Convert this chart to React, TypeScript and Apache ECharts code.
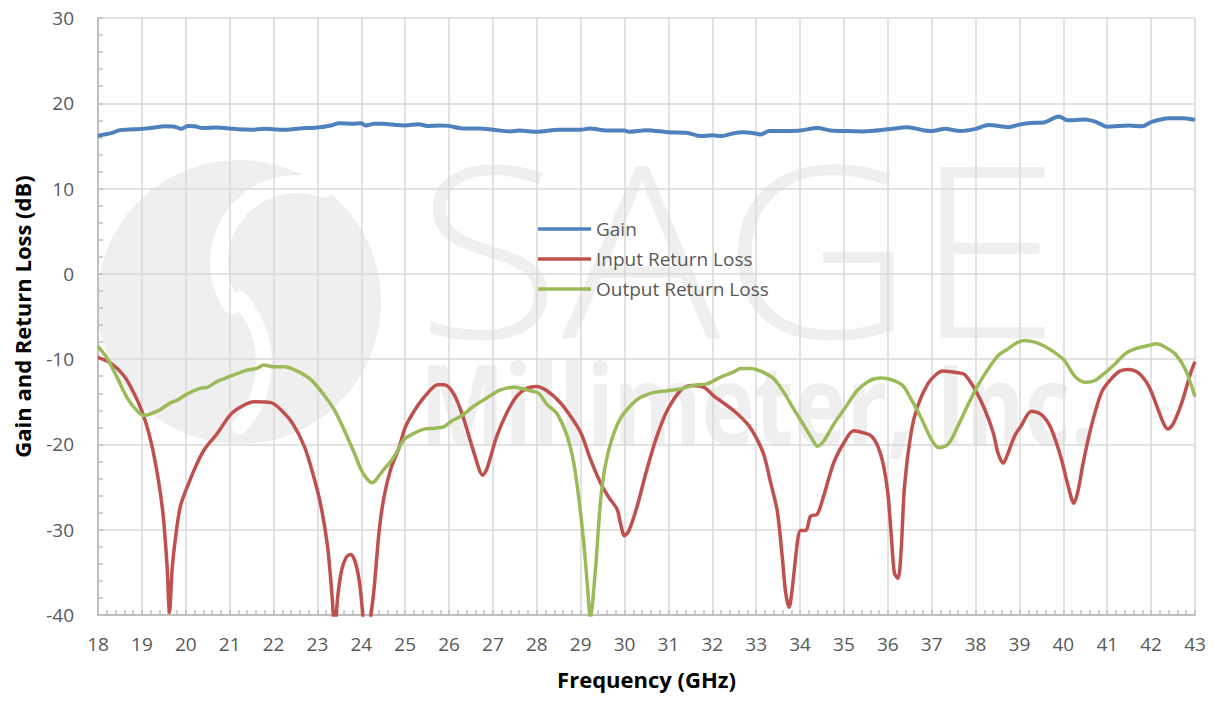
import React, { useEffect, useRef } from "react";
import * as echarts from "echarts";

const xTickMin = 18;
const xTickMax = 43;
const yTickMin = -40;
const yTickMax = 30;

const seriesNames = ["Gain", "Input Return Loss", "Output Return Loss"];

const gainFreq = [18.0, 18.3, 18.5, 18.8, 19.0, 19.3, 19.5, 19.75, 19.9, 20.05, 20.2, 20.4, 20.7, 21.0, 21.2, 21.5, 21.8, 22.0, 22.3, 22.6, 23.0, 23.3, 23.5, 23.8, 24.0, 24.1, 24.3, 24.5, 24.8, 25.0, 25.3, 25.5, 25.8, 26.0, 26.3, 26.7, 27.0, 27.4, 27.6, 28.0, 28.5, 29.0, 29.2, 29.6, 30.0, 30.1, 30.5, 31.0, 31.4, 31.75, 32.0, 32.2, 32.5, 32.7, 33.0, 33.1, 33.3, 33.7, 34.0, 34.4, 34.7, 35.0, 35.45, 36.0, 36.45, 36.8, 37.0, 37.3, 37.65, 38.0, 38.3, 38.75, 39.0, 39.25, 39.55, 39.9, 40.1, 40.5, 40.75, 41.0, 41.5, 41.8, 42.0, 42.4, 42.75, 43.0];
const gainDb = [16.2, 16.5, 16.85, 16.95, 17.0, 17.15, 17.3, 17.25, 17.0, 17.35, 17.3, 17.1, 17.15, 17.05, 16.95, 16.9, 17.0, 16.95, 16.9, 17.05, 17.15, 17.4, 17.65, 17.6, 17.65, 17.4, 17.6, 17.6, 17.45, 17.4, 17.55, 17.35, 17.4, 17.35, 17.05, 17.05, 16.9, 16.7, 16.8, 16.65, 16.9, 16.9, 17.05, 16.8, 16.8, 16.65, 16.85, 16.6, 16.55, 16.15, 16.25, 16.15, 16.5, 16.6, 16.45, 16.35, 16.75, 16.75, 16.8, 17.1, 16.8, 16.75, 16.7, 16.95, 17.2, 16.85, 16.75, 17.0, 16.75, 17.0, 17.45, 17.2, 17.5, 17.7, 17.75, 18.45, 18.0, 18.1, 17.8, 17.25, 17.4, 17.3, 17.8, 18.25, 18.25, 18.05];

const irlFreq = [18.0, 18.3, 18.6, 18.82, 19.0, 19.16, 19.31, 19.47, 19.57, 19.63, 19.69, 19.79, 19.88, 20.04, 20.26, 20.45, 20.72, 21.02, 21.29, 21.56, 21.94, 22.16, 22.43, 22.7, 22.89, 23.08, 23.23, 23.33, 23.4, 23.46, 23.55, 23.66, 23.76, 23.87, 23.97, 24.05, 24.12, 24.2, 24.29, 24.41, 24.52, 24.67, 24.86, 25.01, 25.28, 25.51, 25.74, 25.89, 26.12, 26.34, 26.57, 26.77, 26.86, 27.09, 27.32, 27.55, 27.78, 28.0, 28.23, 28.5, 28.73, 29.0, 29.22, 29.45, 29.64, 29.83, 29.9, 30.0, 30.1, 30.29, 30.51, 30.74, 30.97, 31.27, 31.5, 31.81, 32.03, 32.19, 32.49, 32.8, 33.02, 33.18, 33.33, 33.48, 33.59, 33.67, 33.75, 33.82, 33.94, 34.01, 34.13, 34.24, 34.39, 34.54, 34.77, 35.0, 35.22, 35.42, 35.62, 35.77, 35.89, 36.0, 36.08, 36.15, 36.23, 36.3, 36.38, 36.53, 36.68, 36.91, 37.1, 37.26, 37.6, 37.75, 37.98, 38.21, 38.4, 38.51, 38.63, 38.74, 38.89, 39.04, 39.27, 39.5, 39.69, 39.84, 39.96, 40.11, 40.24, 40.34, 40.45, 40.64, 40.87, 41.06, 41.29, 41.48, 41.71, 41.94, 42.13, 42.28, 42.38, 42.51, 42.7, 42.89, 43.0];
const irlDb = [-9.8, -10.5, -12.0, -14.0, -16.1, -18.7, -22.2, -27.6, -33.9, -39.7, -34.6, -30.0, -27.2, -24.9, -22.2, -20.4, -18.7, -16.5, -15.5, -15.0, -15.1, -15.9, -17.5, -20.2, -23.3, -27.2, -31.9, -37.5, -42.0, -38.0, -34.8, -33.2, -32.9, -33.9, -36.6, -41.0, -46.0, -41.0, -37.0, -30.0, -26.1, -22.9, -20.4, -17.9, -15.5, -14.0, -13.0, -13.0, -14.2, -17.1, -21.0, -23.6, -22.9, -19.0, -16.25, -14.3, -13.4, -13.2, -13.7, -14.9, -16.4, -18.6, -21.7, -24.5, -26.2, -27.6, -29.1, -30.7, -30.1, -27.2, -22.9, -19.0, -16.05, -13.7, -13.1, -13.3, -14.3, -14.9, -16.05, -17.6, -19.4, -21.3, -24.5, -27.8, -33.0, -37.3, -39.1, -37.0, -31.4, -30.1, -30.1, -28.4, -28.2, -26.0, -22.1, -19.8, -18.4, -18.6, -19.0, -20.2, -22.2, -25.7, -30.8, -35.1, -35.7, -32.7, -24.9, -18.6, -15.5, -12.9, -11.8, -11.4, -11.6, -11.8, -13.5, -15.9, -18.6, -21.0, -22.2, -21.0, -19.0, -17.8, -16.1, -16.5, -17.8, -19.8, -21.8, -24.9, -26.9, -25.3, -22.2, -17.8, -13.9, -12.5, -11.4, -11.2, -11.6, -13.1, -15.5, -17.5, -18.2, -17.5, -15.1, -11.8, -10.3];

const orlFreq = [18.0, 18.21, 18.44, 18.67, 18.9, 19.05, 19.35, 19.66, 19.81, 20.04, 20.34, 20.49, 20.72, 21.02, 21.33, 21.63, 21.78, 22.01, 22.24, 22.54, 22.85, 23.15, 23.38, 23.61, 23.84, 23.99, 24.14, 24.25, 24.37, 24.52, 24.67, 24.82, 24.98, 25.2, 25.43, 25.66, 25.89, 26.04, 26.27, 26.57, 26.94, 27.17, 27.47, 27.7, 27.85, 28.04, 28.23, 28.46, 28.69, 28.84, 28.95, 29.07, 29.16, 29.22, 29.33, 29.45, 29.56, 29.71, 29.9, 30.13, 30.36, 30.67, 30.97, 31.27, 31.58, 31.88, 32.19, 32.49, 32.64, 32.87, 33.1, 33.4, 33.63, 33.86, 34.09, 34.28, 34.39, 34.54, 34.77, 35.0, 35.3, 35.53, 35.7, 35.85, 36.08, 36.34, 36.53, 36.76, 36.99, 37.16, 37.37, 37.6, 37.83, 38.05, 38.28, 38.51, 38.74, 38.93, 39.12, 39.35, 39.54, 39.8, 40.03, 40.26, 40.49, 40.72, 40.95, 41.17, 41.4, 41.63, 41.94, 42.13, 42.32, 42.55, 42.78, 43.0];
const orlDb = [-8.5, -9.9, -12.2, -14.6, -16.1, -16.6, -16.1, -15.1, -14.8, -14.05, -13.4, -13.3, -12.6, -12.0, -11.4, -11.05, -10.7, -10.9, -10.9, -11.4, -12.4, -14.2, -15.9, -18.3, -21.0, -22.9, -24.1, -24.5, -23.9, -22.9, -22.0, -20.8, -19.4, -18.7, -18.2, -18.1, -17.9, -17.3, -16.7, -15.5, -14.3, -13.6, -13.3, -13.5, -13.7, -14.0, -15.3, -16.4, -19.0, -22.1, -26.0, -31.5, -37.0, -40.3, -35.1, -26.8, -22.5, -19.4, -17.0, -15.5, -14.5, -13.9, -13.7, -13.5, -13.05, -12.9, -12.1, -11.5, -11.1, -11.1, -11.4, -12.3, -13.9, -15.9, -17.8, -19.4, -20.2, -19.6, -17.6, -15.9, -13.7, -12.7, -12.3, -12.2, -12.4, -13.1, -14.7, -16.9, -19.4, -20.4, -20.0, -17.8, -15.3, -13.1, -11.2, -9.6, -8.8, -8.1, -7.8, -8.0, -8.4, -9.2, -10.2, -12.0, -12.7, -12.5, -11.6, -10.6, -9.4, -8.8, -8.4, -8.2, -8.6, -9.4, -11.2, -14.4];

const FONT = "'Open Sans', 'Liberation Sans', sans-serif";
const WM = "#efefef";

function pairs(xs: number[], ys: number[]) {
  return xs.map((x, i) => [x, ys[i]]);
}

export default function App() {
  const ref = useRef<HTMLDivElement>(null);

  useEffect(() => {
    document.body.style.margin = "0";
    if (!ref.current) return;
    const chart = echarts.init(ref.current, undefined, { renderer: "svg" });

    const axisCommon = {
      axisLine: { show: true, onZero: false, lineStyle: { color: "#bfbfbf", width: 2 } },
      axisTick: { show: true, inside: true, length: 5, lineStyle: { color: "#bfbfbf", width: 1.5 } },
      minorTick: { show: true, splitNumber: 5, length: 5, lineStyle: { color: "#bfbfbf", width: 1.5 } },
      splitLine: { show: true, lineStyle: { color: "#d9d9d9", width: 1.5 } },
      nameLocation: "middle" as const,
      nameTextStyle: { fontFamily: FONT, fontWeight: "bold" as const, fontSize: 22, color: "#000000" },
    };

    const option = {
      animation: false,
      grid: { left: 98, right: 20, top: 18, bottom: 86, containLabel: false },
      graphic: [
        { type: "circle", z: -10, silent: true, shape: { cx: 239, cy: 302, r: 142 }, style: { fill: WM } },
        { type: "arc", z: -9, silent: true, shape: { cx: 297, cy: 262, r: 78, startAngle: (146 * Math.PI) / 180, endAngle: (290 * Math.PI) / 180, clockwise: true }, style: { stroke: "#ffffff", lineWidth: 18, fill: "none", lineCap: "round" } },
        { type: "arc", z: -9, silent: true, shape: { cx: 169, cy: 363, r: 95, startAngle: (-42 * Math.PI) / 180, endAngle: (42 * Math.PI) / 180, clockwise: true }, style: { stroke: "#ffffff", lineWidth: 16, fill: "none", lineCap: "round" } },
        { type: "text", z: -10, silent: true, x: 416, y: 245, scaleX: 1.11, style: { text: "SAGE", fill: WM, font: `300 240px ${FONT}`, textAlign: "left", textVerticalAlign: "middle" } },
        { type: "text", z: -10, silent: true, x: 420, y: 402, scaleX: 0.8, style: { text: "Millimeter, Inc.", fill: WM, font: `bold 112px ${FONT}`, textAlign: "left", textVerticalAlign: "middle" } },
      ],
      legend: {
        data: seriesNames,
        orient: "vertical",
        left: 533,
        top: 214,
        icon: "rect",
        itemWidth: 53,
        itemHeight: 3.5,
        itemGap: 10,
        textStyle: { fontFamily: FONT, fontSize: 19, color: "#595959", lineHeight: 20 },
      },
      xAxis: {
        ...axisCommon,
        type: "value",
        min: xTickMin,
        max: xTickMax,
        interval: 1,
        name: "Frequency (GHz)",
        nameGap: 53,
        axisLabel: { fontFamily: FONT, fontSize: 19, color: "#595959", margin: 19 },
      },
      yAxis: {
        ...axisCommon,
        type: "value",
        min: yTickMin,
        max: yTickMax,
        interval: 10,
        name: "Gain and Return Loss (dB)",
        nameGap: 65,
        axisLabel: { fontFamily: FONT, fontSize: 19, color: "#595959", margin: 24 },
      },
      series: [
        { name: seriesNames[0], type: "line", data: pairs(gainFreq, gainDb), showSymbol: false, symbol: "none", smooth: 0.3, clip: true, color: "#4f81bd", lineStyle: { width: 4, color: "#4f81bd" } },
        { name: seriesNames[1], type: "line", data: pairs(irlFreq, irlDb), showSymbol: false, symbol: "none", smooth: 0.3, clip: true, color: "#c0504d", lineStyle: { width: 3.5, color: "#c0504d" } },
        { name: seriesNames[2], type: "line", data: pairs(orlFreq, orlDb), showSymbol: false, symbol: "none", smooth: 0.3, clip: true, color: "#9bbb59", lineStyle: { width: 3.5, color: "#9bbb59" } },
      ],
    };

    chart.setOption(option as any);
    return () => chart.dispose();
  }, []);

  return <div ref={ref} style={{ width: 1215, height: 701 }} />;
}
